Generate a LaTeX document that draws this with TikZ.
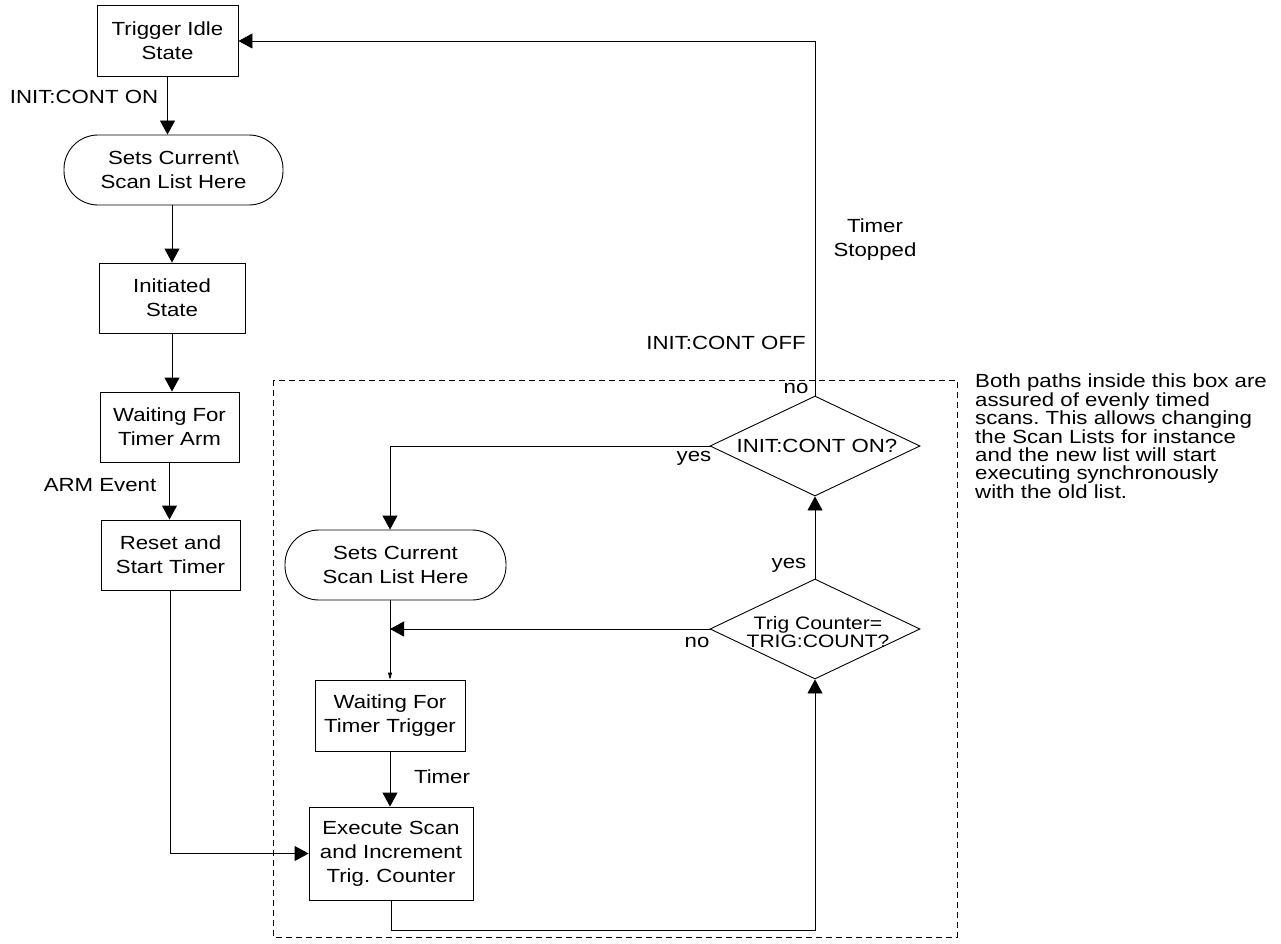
\documentclass[tikz,border=0pt]{standalone}
\usepackage{fontspec}
\setmainfont{Liberation Sans}[FakeStretch=1.17]
\usetikzlibrary{arrows.meta,shapes.geometric}
\frenchspacing
\begin{document}
\begin{tikzpicture}[x=1pt,y=-1pt,
  every node/.style={font=\fontsize{19}{24}\selectfont},
  box/.style={draw, line width=0.9pt, rectangle, align=center, inner sep=0pt},
  oval/.style={draw, line width=0.9pt, rectangle, rounded corners=34pt, align=center, inner sep=0pt},
  dia/.style={draw, line width=0.9pt, diamond, inner sep=0pt, minimum width=210pt, minimum height=100pt},
  lbl/.style={inner sep=0pt},
  conn/.style={line width=0.9pt},
  arr/.style={conn, -{Triangle[width=15pt,length=14pt]}},
  smallarr/.style={conn, -{Triangle[width=4pt,length=7pt]}},
  zone/.style={line width=0.8pt, dash pattern=on 6pt off 4pt}
]
\useasboundingbox (0,0) rectangle (1281,944);

% dashed zone
\draw[zone] (273,380) rectangle (957,937);

% left column
\node[box, minimum width=141pt, minimum height=71pt] (idle) at (167.5,41) {Trigger Idle\\State};
\node[oval, minimum width=219pt, minimum height=70pt] (ov1) at (173.5,170) {Sets Current\textbackslash\\Scan List Here};
\node[box, minimum width=146pt, minimum height=70pt] (init) at (172,298) {Initiated\\State};
\node[box, minimum width=139pt, minimum height=70pt] (arm) at (169.5,427) {Waiting For\\Timer Arm};
\node[box, minimum width=139pt, minimum height=70pt] (reset) at (170.5,555) {Reset and\\Start Timer};

% inner loop
\node[oval, minimum width=221pt, minimum height=70pt] (ov2) at (395.5,565) {Sets Current\\Scan List Here};
\node[box, minimum width=150pt, minimum height=71pt] (wtt) at (390,715.5) {Waiting For\\Timer Trigger};
\node[box, minimum width=164pt, minimum height=93pt] (exec) at (391,853.5) {Execute Scan\\and Increment\\Trig. Counter};

\node[dia] (d1) at (815,446) {};
\node[lbl] (d1t) at (817,446) {INIT:CONT ON?};
\node[dia] (d2) at (815,629) {};
\node[lbl, font=\fontsize{18}{18}\selectfont, align=center] (d2t) at (818,632) {Trig Counter=\\TRIG:COUNT?};

% connectors
\draw[arr] (idle.south) -- (idle.south |- ov1.north);
\draw[arr] (ov1.south -| init.north) -- (init.north);
\draw[arr] (init.south) -- (init.south |- arm.north);
\draw[arr] (arm.south) -- (arm.south |- reset.north);
\draw[arr] (reset.south) |- (exec.west);
\draw[smallarr] (wtt.north |- ov2.south) -- (wtt.north);
\draw[arr] (wtt.south) -- (wtt.south |- exec.north);
\draw[arr] (d1.west) -| (wtt.north |- ov2.north);
\draw[arr] (d2.west) -- (d2.west -| wtt.north);
\draw[arr] (d2.north) -- (d1.south);
\draw[arr] (exec.south) -- ++(0,30) -| (d2.south);
\draw[arr] (d1.north) |- (idle.east);

% labels
\node[lbl] (l1) at (84,97) {INIT:CONT ON};
\node[lbl] (l2) at (100,485) {ARM Event};
\node[lbl] (l3) at (442,777) {Timer};
\node[lbl, align=center] (l4) at (875,240) {Timer\\Stopped};
\node[lbl] (l5) at (726,343) {INIT:CONT OFF};
\node[lbl] (l6) at (796,388) {no};
\node[lbl] (l7) at (694,458) {yes};
\node[lbl] (l8) at (789,565) {yes};
\node[lbl] (l9) at (697,642) {no};

\node[lbl, anchor=north west, align=left, font=\fontsize{19}{18.4}\selectfont] (note) at (975,374)
  {Both paths inside this box are\\assured of evenly timed\\scans. This allows changing\\the Scan Lists for instance\\and the new list will start\\executing synchronously\\with the old list.};
\end{tikzpicture}
\end{document}
